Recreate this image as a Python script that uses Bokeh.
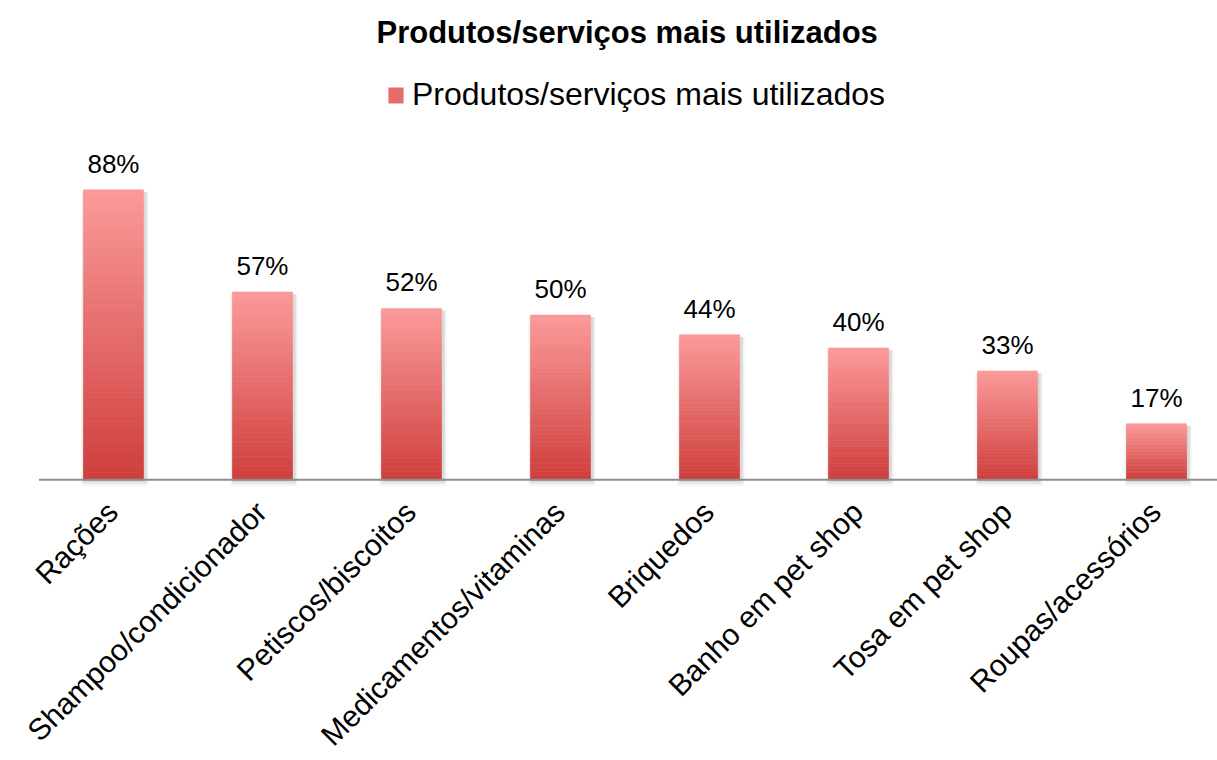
import math
from bokeh.plotting import figure
from bokeh.models import Range1d, Legend, LegendItem, ColumnDataSource
from bokeh.core.properties import value
from bokeh.embed import file_html
from bokeh.resources import INLINE

# ---- data ----
categories = ["Rações", "Shampoo/condicionador", "Petiscos/biscoitos",
              "Medicamentos/vitaminas", "Briquedos", "Banho em pet shop",
              "Tosa em pet shop", "Roupas/acessórios"]
values = [88, 57, 52, 50, 44, 40, 33, 17]
value_labels = ["88%", "57%", "52%", "50%", "44%", "40%", "33%", "17%"]
series_name = "Produtos/serviços mais utilizados"
chart_title = "Produtos/serviços mais utilizados"

FONT = "Liberation Sans"
TOP_RGB = (252, 154, 154)
BOT_RGB = (206, 62, 60)
N_STRIPS = 40
BAR_W = 0.403

xs = list(range(len(categories)))

p = figure(width=1217, height=760, output_backend="svg", toolbar_location=None,
           x_range=Range1d(-0.758, 7.409), y_range=Range1d(-85.26, 129.1),
           min_border_left=0, min_border_right=0, min_border_bottom=0, min_border_top=54)
p.title.text = chart_title
p.title.text_font = FONT
p.title.text_font_size = "31px"
p.title.text_font_style = "bold"
p.title.align = "left"
p.title.offset = 376
p.title.text_color = "#000000"
p.xaxis.visible = False
p.yaxis.visible = False
p.xgrid.visible = False
p.ygrid.visible = False
p.outline_line_color = None
p.background_fill_color = "white"
p.border_fill_color = "white"


def mix(t):
    r = int(round(TOP_RGB[0] + (BOT_RGB[0] - TOP_RGB[0]) * t))
    g = int(round(TOP_RGB[1] + (BOT_RGB[1] - TOP_RGB[1]) * t))
    b = int(round(TOP_RGB[2] + (BOT_RGB[2] - TOP_RGB[2]) * t))
    return "#%02x%02x%02x" % (r, g, b)


# soft drop shadow behind each bar
for grow, alpha in [(0.05, 0.03), (0.034, 0.05), (0.02, 0.07)]:
    p.vbar(x=[x + 0.01 for x in xs], top=[v - 0.6 for v in values], bottom=-grow * 40,
           width=BAR_W + grow, fill_color="#000000", fill_alpha=alpha, line_color=None)

# gradient bars: each bar split into strips along its own height
sx, sb, st, sc = [], [], [], []
for x, v in zip(xs, values):
    for k in range(N_STRIPS):
        sx.append(x)
        sb.append(v * k / N_STRIPS)
        st.append(v * (k + 1) / N_STRIPS)
        sc.append(mix(1 - (k + 0.5) / N_STRIPS))
strips = ColumnDataSource(dict(x=sx, bottom=sb, top=st, color=sc))
bars = p.vbar(x="x", bottom="bottom", top="top", width=BAR_W, source=strips,
              fill_color="color", line_color="color", line_width=0.6)

# category axis baseline
p.segment(x0=[-0.5], x1=[len(categories)], y0=[0], y1=[0],
          line_color="#8e8e8e", line_width=2)

# value labels
p.text(x=xs, y=values, text=value_labels, text_font=value(FONT), text_font_size="26px",
       text_align="center", text_baseline="alphabetic", y_offset=-26, text_color="#000000")

# category labels rotated 45 degrees
p.text(x=xs, y=[0] * len(xs), text=categories, text_font=value(FONT), text_font_size="30px",
       text_align="right", text_baseline="middle", angle=math.pi / 4,
       x_offset=-1, y_offset=27, text_color="#000000")

# legend
swatch = p.vbar(x=[0], top=[0], width=0, fill_color=mix(0.5), line_color=None)
legend = Legend(items=[LegendItem(label=series_name, renderers=[swatch])],
                location=(386, 647), orientation="horizontal",
                label_text_font=FONT, label_text_font_size="32px", label_text_color="#000000",
                glyph_width=19, glyph_height=20, label_standoff=7, padding=0, margin=0,
                border_line_color=None, background_fill_alpha=0)
p.add_layout(legend)

open("out.html", "w").write(file_html(p, INLINE))
